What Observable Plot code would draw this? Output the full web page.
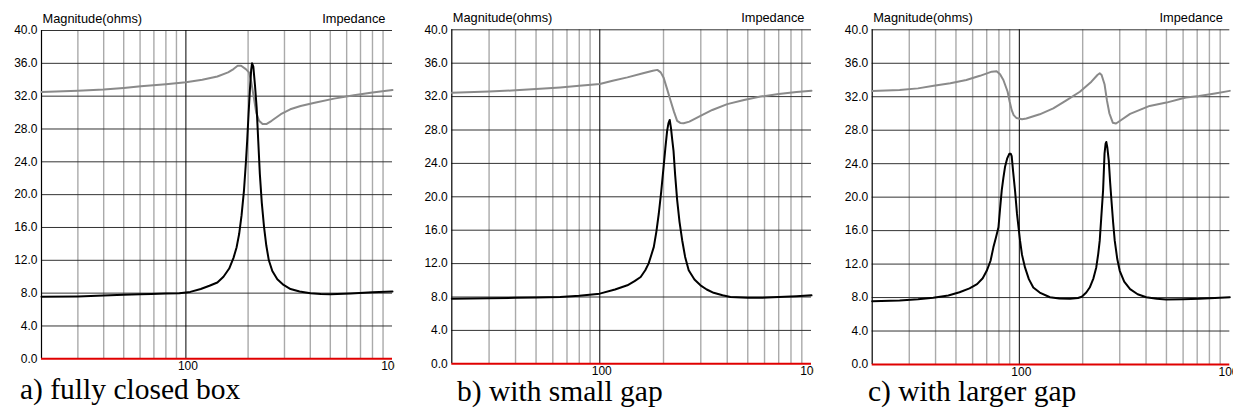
<!DOCTYPE html>
<html>
<head>
<meta charset="utf-8">
<script src="https://cdn.jsdelivr.net/npm/d3@7"></script>
<script src="https://cdn.jsdelivr.net/npm/@observablehq/plot@0.6"></script>
<style>
  html, body { margin: 0; padding: 0; background: #fff; }
  #root { position: relative; width: 1233px; height: 417px; overflow: hidden; background: #fff; }
  .panel { position: absolute; top: 0; overflow: hidden; }
  .caption { position: absolute; font-family: "Liberation Serif", "Times New Roman", serif; font-size: 29.5px; color: #000; white-space: nowrap; line-height: 0.85; }
</style>
</head>
<body>
<div id="root"></div>
<script>
// ---------- data ----------
const captions = ["a) fully closed box", "b) with small gap", "c) with larger gap"];
const yTicks = [0, 4, 8, 12, 16, 20, 24, 28, 32, 36, 40];
const xLabelTicks = [100, 1000];
const minorGrid = [30, 40, 50, 60, 70, 80, 90, 200, 300, 400, 500, 600, 700, 800, 900];
const majorGrid = [100];
const yTitle = "Magnitude(ohms)";
const chartTitle = "Impedance";

// Panel a) fully closed box
const aBlackFreq = [20, 30, 40, 50, 60, 68, 80, 93, 105, 118, 130, 142, 152, 162, 170, 176, 181, 186, 191, 195, 198, 201, 204, 207, 209, 212, 216, 220, 224, 228, 233, 239, 245, 252, 262, 277, 297, 321, 355, 401, 450, 502, 627, 800, 1000];
const aBlackMag  = [7.55, 7.6, 7.7, 7.8, 7.85, 7.9, 7.95, 8.0, 8.15, 8.5, 8.9, 9.3, 10.0, 11.0, 12.3, 13.6, 15.2, 17.5, 20.5, 23.8, 26.6, 29.8, 32.7, 35.2, 36.0, 35.6, 33.3, 30.6, 26.5, 22.5, 19.0, 16.0, 13.8, 12.0, 10.7, 9.7, 9.0, 8.5, 8.2, 8.0, 7.9, 7.85, 7.95, 8.1, 8.2];
const aGrayFreq  = [20, 30, 40, 50, 60.5, 80, 100, 120, 142, 160, 170, 178, 185, 195, 202, 207, 213, 219, 226, 235, 245, 260, 288, 320, 359, 420, 521, 650, 800, 1000];
const aGrayMag   = [32.5, 32.65, 32.8, 33.0, 33.2, 33.45, 33.7, 34.0, 34.4, 34.9, 35.3, 35.7, 35.7, 35.3, 34.9, 33.8, 31.9, 30.0, 29.0, 28.6, 28.6, 29.0, 29.8, 30.4, 30.8, 31.2, 31.7, 32.1, 32.45, 32.75];

// Panel b) with small gap
const bBlackFreq = [20, 30, 40, 50, 65, 80, 100, 118, 135, 146, 156, 164, 170, 175, 180, 185, 190, 195, 200, 204, 208, 211, 214, 217, 220, 223, 227, 232, 238, 245, 253, 263, 280, 299, 320, 345, 380, 414, 500, 574, 700, 850, 1000];
const bBlackMag  = [7.8, 7.85, 7.9, 7.95, 8.0, 8.15, 8.4, 8.9, 9.4, 9.9, 10.4, 11.2, 12.0, 13.0, 14.0, 15.8, 18.0, 20.6, 23.5, 25.8, 27.9, 28.8, 29.2, 28.2, 26.8, 25.5, 22.6, 19.6, 17.0, 14.8, 12.8, 11.2, 10.1, 9.4, 8.9, 8.5, 8.2, 8.0, 7.9, 7.9, 8.0, 8.1, 8.2];
const bGrayFreq  = [20, 30, 40, 50, 65, 80, 100, 115, 135, 160, 178, 187, 194, 200, 208, 216, 224, 232, 240, 249, 265, 299, 340, 400, 480, 574, 700, 850, 1000];
const bGrayMag   = [32.45, 32.6, 32.75, 32.9, 33.1, 33.3, 33.5, 33.9, 34.3, 34.8, 35.1, 35.2, 34.9, 34.3, 32.9, 31.5, 30.2, 29.1, 28.85, 28.8, 29.0, 29.7, 30.4, 31.1, 31.6, 32.0, 32.3, 32.55, 32.7];

// Panel c) with larger gap
const cBlackFreq = [20, 27, 33, 39, 46, 52, 58, 63, 67, 70, 73, 75.3, 77.5, 79.6, 81, 82.5, 84, 85.5, 87.5, 89.7, 91, 92, 93.5, 95.4, 97.5, 100.8, 103, 106.4, 111, 116.5, 125, 139.8, 155, 174, 190, 198, 208, 216, 225, 232, 237, 241, 245, 250, 254, 257, 259, 262, 266, 270, 274, 279, 284, 292, 300, 315, 336, 365, 401, 450, 498, 600, 716, 850, 1000];
const cBlackMag  = [7.55, 7.65, 7.8, 7.97, 8.25, 8.64, 9.1, 9.6, 10.3, 11.2, 12.4, 14.0, 15.2, 16.4, 18.6, 20.8, 22.3, 23.6, 24.6, 25.2, 25.2, 24.9, 23.0, 20.8, 18.0, 14.8, 13.1, 11.6, 10.2, 9.2, 8.6, 8.04, 7.9, 7.85, 7.95, 8.1, 8.6, 9.2, 10.3, 11.6, 13.2, 14.8, 17.5, 20.8, 25.2, 26.4, 26.6, 25.9, 24.4, 21.8, 19.6, 17.0, 14.8, 12.6, 11.2, 9.9, 9.0, 8.4, 8.04, 7.85, 7.77, 7.8, 7.85, 7.95, 8.04];
const cGrayFreq  = [20, 27, 33, 39.2, 47, 56, 65, 74, 78, 81, 84, 88, 90, 92, 94, 97, 103, 108, 125, 145, 168, 194, 220, 235, 241, 246, 254, 261, 268, 278, 288, 300, 336, 416, 500, 618, 716, 850, 1000];
const cGrayMag   = [32.7, 32.8, 33.0, 33.3, 33.6, 34.0, 34.5, 35.0, 35.05, 34.7, 34.0, 32.6, 31.4, 30.4, 29.8, 29.45, 29.3, 29.4, 29.9, 30.6, 31.6, 32.6, 33.8, 34.6, 34.8, 34.6, 33.5, 31.5, 30.0, 28.9, 28.8, 29.1, 29.95, 30.9, 31.3, 31.9, 32.1, 32.4, 32.7];

// ---------- layout ----------
const panels = [
  {left: 0,   width: 395, height: 376, ml: 41,   mr: 3,   mt: 30,   mb: 17.7, black: [aBlackFreq, aBlackMag], gray: [aGrayFreq, aGrayMag], capX: 20,  capY: 377},
  {left: 410, width: 404, height: 381, ml: 41.3, mr: 3,   mt: 29.3, mb: 17.7, black: [bBlackFreq, bBlackMag], gray: [bGrayFreq, bGrayMag], capX: 457, capY: 379},
  {left: 830, width: 403, height: 382, ml: 41.7, mr: 3.7, mt: 29.3, mb: 18,   black: [cBlackFreq, cBlackMag], gray: [cGrayFreq, cGrayMag], capX: 868, capY: 379}
];

const toRows = ([f, m]) => f.map((x, i) => ({f: x, m: m[i]}));
const root = document.getElementById("root");

panels.forEach((p, i) => {
  const black = toRows(p.black);
  const gray = toRows(p.gray);
  const chart = Plot.plot({
    width: p.width,
    height: p.height,
    marginLeft: p.ml,
    marginRight: p.mr,
    marginTop: p.mt,
    marginBottom: p.mb,
    x: {type: "log", domain: [20, 1000]},
    y: {domain: [0, 40]},
    style: {fontFamily: "'Liberation Sans', Arial, sans-serif", fontSize: "12px", background: "#fff", color: "#000"},
    marks: [
      Plot.ruleX(minorGrid, {stroke: "#aaaaaa", strokeWidth: 1.4}),
      Plot.ruleY(yTicks.filter(d => d > 0), {stroke: "#333333", strokeWidth: 1}),
      Plot.ruleX(majorGrid, {stroke: "#000", strokeWidth: 1}),
      Plot.ruleX([20], {stroke: "#000", strokeWidth: 1.2}),
      Plot.line(gray, {x: "f", y: "m", stroke: "#8a8a8a", strokeWidth: 2, curve: "linear"}),
      Plot.line(black, {x: "f", y: "m", stroke: "#000", strokeWidth: 2, curve: "linear"}),
      Plot.ruleY([0], {stroke: "#e00000", strokeWidth: 2}),
      Plot.axisY({ticks: yTicks, tickFormat: d3.format(".1f"), tickSize: 0, tickPadding: 4, label: null, fill: "#000"}),
      Plot.axisX({ticks: xLabelTicks, tickFormat: d => String(d), tickSize: 0, tickPadding: 3, dx: 2, label: null, fill: "#000"}),
      Plot.text([yTitle], {text: d => d, frameAnchor: "top-left", textAnchor: "start", lineAnchor: "top", dx: 1, dy: -17, fontSize: 12.8, fill: "#000"}),
      Plot.text([chartTitle], {text: d => d, frameAnchor: "top-right", textAnchor: "end", lineAnchor: "top", dx: -7, dy: -17, fontSize: 12.8, fill: "#000"})
    ]
  });
  const wrap = document.createElement("div");
  wrap.className = "panel";
  wrap.style.left = p.left + "px";
  wrap.style.width = p.width + "px";
  wrap.style.height = p.height + "px";
  wrap.appendChild(chart);
  root.appendChild(wrap);

  const cap = document.createElement("div");
  cap.className = "caption";
  cap.style.left = p.capX + "px";
  cap.style.top = p.capY + "px";
  cap.textContent = captions[i];
  root.appendChild(cap);
});
</script>
</body>
</html>
